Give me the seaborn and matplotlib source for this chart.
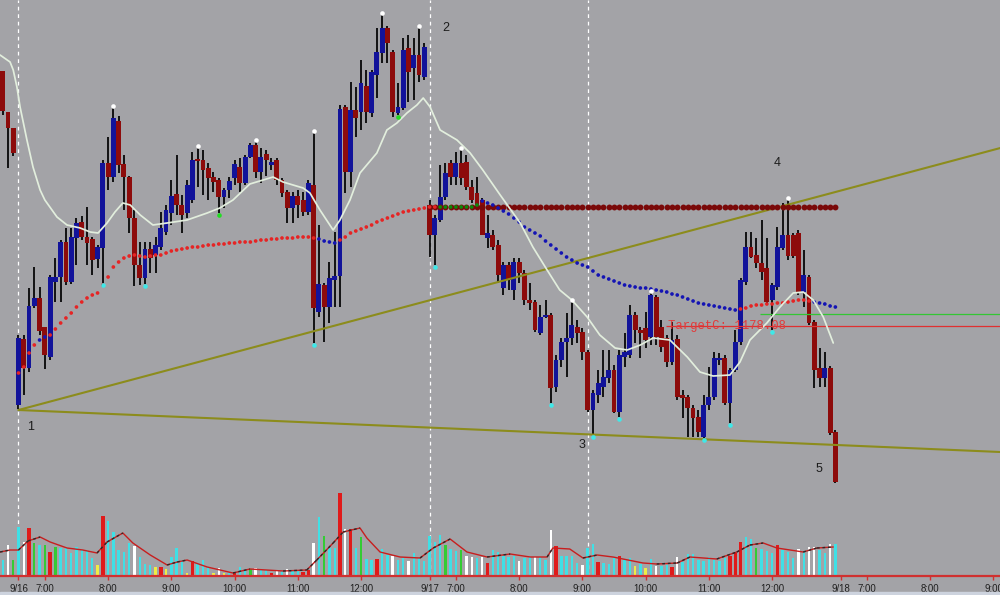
import numpy as np
import pandas as pd
import matplotlib
matplotlib.use("Agg")
import matplotlib.pyplot as plt
import seaborn as sns

# ---------------- data (5 minute bars) ----------------
# bar 0 = first bar of 9/16, bar 78 = first bar of 9/17, bar 156 = 9/18
first_bar = -3

opens = [1203.6, 1199.5, 1197.9,
         1170.2, 1176.8, 1173.9, 1180.1, 1180.9, 1178.0, 1175.0, 1182.5, 1183.0, 1186.5,
         1182.5, 1186.9, 1188.5, 1187.0, 1186.8, 1184.8, 1185.9, 1194.4, 1193.0, 1198.6,
         1194.3, 1193.0, 1188.9, 1184.2, 1182.9, 1185.8, 1185.2, 1186.0, 1187.5, 1189.4,
         1191.3, 1190.2, 1189.4, 1190.7, 1194.7, 1194.7, 1193.9, 1193.0, 1192.7, 1191.0,
         1191.7, 1192.9, 1194.0, 1192.4, 1195.0, 1196.2, 1193.5, 1195.3, 1194.2, 1194.7,
         1192.7, 1191.5, 1189.9, 1191.1, 1190.7, 1189.5, 1192.2, 1179.5, 1182.2, 1180.0,
         1182.7, 1183.1, 1200.0, 1193.5, 1199.7, 1199.5, 1202.1, 1199.4, 1203.2, 1205.4,
         1207.9, 1205.5, 1199.4, 1199.9, 1205.9, 1203.9, 1205.2, 1203.0,
         1190.2, 1187.2, 1188.7, 1191.0, 1194.4, 1193.0, 1194.4, 1194.5, 1192.0, 1191.4, 1190.7, 1186.9,
         1187.2, 1186.2, 1181.9, 1184.2, 1181.7, 1184.5, 1183.4, 1180.7, 1180.5, 1177.4,
         1179.0, 1179.2, 1172.0, 1174.7, 1176.5, 1176.9, 1178.0, 1177.5, 1175.5, 1169.7,
         1171.2, 1172.0, 1172.9, 1173.7, 1169.5, 1175.0, 1175.2, 1179.2, 1177.7, 1177.9,
         1177.0, 1181.0, 1178.0, 1176.9, 1174.5, 1176.8, 1171.2, 1171.0, 1169.9, 1169.0,
         1167.0, 1170.2, 1171.0, 1174.7, 1174.9, 1170.4, 1173.7, 1176.5, 1182.5, 1186.0,
         1185.2, 1184.4, 1183.9, 1180.7, 1182.0, 1185.9, 1187.2, 1187.2, 1187.4, 1181.5,
         1183.0, 1178.5, 1173.9, 1172.9, 1173.9, 1167.5]

highs = [1203.6, 1199.5, 1197.9,
         1177.2, 1177.2, 1181.9, 1184.0, 1182.0, 1178.0, 1183.2, 1184.9, 1186.7, 1187.9,
         1187.9, 1188.9, 1189.1, 1190.0, 1187.0, 1186.2, 1194.7, 1197.0, 1200.0, 1199.1,
         1195.2, 1193.1, 1189.7, 1186.5, 1186.5, 1186.5, 1187.0, 1189.5, 1190.2, 1192.7,
         1195.2, 1191.2, 1192.7, 1195.5, 1196.0, 1195.7, 1194.4, 1193.5, 1192.9, 1191.9,
         1193.0, 1194.7, 1194.9, 1195.2, 1196.4, 1196.6, 1195.9, 1195.7, 1194.9, 1194.9,
         1192.9, 1191.7, 1191.5, 1191.7, 1191.5, 1192.7, 1197.5, 1188.2, 1182.4, 1184.5,
         1187.5, 1200.2, 1200.2, 1202.5, 1202.0, 1204.7, 1203.7, 1203.7, 1207.9, 1209.2,
         1208.1, 1205.7, 1202.4, 1206.9, 1207.2, 1206.9, 1208.0, 1206.4,
         1190.7, 1189.2, 1194.2, 1194.4, 1194.7, 1195.5, 1195.8, 1195.2, 1192.7, 1193.0, 1190.9, 1189.2,
         1187.7, 1186.7, 1184.5, 1184.5, 1184.9, 1184.9, 1183.7, 1182.4, 1180.7, 1180.2,
         1180.7, 1179.4, 1175.2, 1176.9, 1179.4, 1180.6, 1178.7, 1177.9, 1175.7, 1171.7,
         1173.7, 1175.7, 1175.7, 1174.2, 1175.7, 1177.4, 1180.2, 1179.5, 1178.0, 1179.5,
         1181.4, 1181.2, 1178.7, 1177.2, 1178.5, 1177.2, 1171.7, 1171.2, 1170.2, 1169.7,
         1171.2, 1174.0, 1175.5, 1175.4, 1175.2, 1173.9, 1177.7, 1182.9, 1187.5, 1187.5,
         1186.9, 1188.7, 1186.9, 1182.4, 1188.0, 1190.4, 1190.7, 1187.4, 1187.7, 1185.7,
         1183.2, 1178.7, 1175.9, 1175.5, 1174.1, 1167.7]

lows = [1199.2, 1193.9, 1195.1,
        1169.8, 1171.2, 1173.5, 1179.9, 1177.2, 1173.8, 1174.7, 1180.5, 1180.5, 1182.2,
        1182.3, 1184.2, 1186.7, 1184.2, 1183.2, 1183.9, 1182.4, 1191.7, 1192.5, 1193.4,
        1189.7, 1187.4, 1182.1, 1182.2, 1182.3, 1183.4, 1183.4, 1185.7, 1187.2, 1188.2,
        1189.2, 1187.4, 1188.9, 1190.4, 1192.0, 1191.2, 1190.7, 1191.5, 1189.4, 1189.9,
        1190.9, 1192.2, 1191.5, 1192.2, 1194.9, 1192.9, 1192.4, 1193.1, 1193.7, 1192.2,
        1191.0, 1188.4, 1188.4, 1188.9, 1189.1, 1189.2, 1176.4, 1179.0, 1176.5, 1178.4,
        1180.0, 1180.0, 1191.4, 1192.0, 1197.0, 1197.7, 1198.4, 1199.0, 1200.9, 1204.4,
        1204.4, 1199.0, 1199.2, 1199.7, 1200.5, 1200.7, 1202.5, 1202.7,
        1185.0, 1184.2, 1188.5, 1190.7, 1192.2, 1192.2, 1192.2, 1191.7, 1190.4, 1189.7, 1187.2, 1185.9,
        1185.7, 1182.4, 1181.2, 1181.7, 1180.7, 1182.4, 1180.2, 1179.7, 1177.5, 1177.2,
        1178.9, 1170.4, 1171.5, 1174.0, 1173.0, 1176.2, 1176.4, 1174.7, 1169.5, 1167.2,
        1170.4, 1171.0, 1172.4, 1169.4, 1169.0, 1174.0, 1174.9, 1176.4, 1174.9, 1175.9,
        1176.2, 1176.2, 1175.5, 1174.0, 1174.2, 1170.7, 1168.9, 1167.0, 1167.0, 1167.0,
        1166.9, 1169.7, 1170.7, 1174.2, 1170.2, 1168.4, 1173.5, 1176.2, 1182.2, 1184.9,
        1183.9, 1182.7, 1180.2, 1177.7, 1181.7, 1185.7, 1184.7, 1184.9, 1181.2, 1180.0,
        1178.2, 1171.9, 1172.0, 1172.0, 1167.2, 1162.4]

closes = [1199.6, 1197.9, 1195.4,
          1176.9, 1173.9, 1180.1, 1180.9, 1177.6, 1175.2, 1183.0, 1183.0, 1186.5, 1182.5,
          1187.0, 1188.4, 1187.0, 1186.4, 1184.7, 1186.0, 1194.4, 1193.0, 1198.9, 1194.2,
          1193.0, 1188.9, 1184.2, 1182.9, 1185.8, 1184.9, 1186.2, 1187.9, 1189.7, 1191.1,
          1190.2, 1189.2, 1192.2, 1194.7, 1194.6, 1193.7, 1192.9, 1192.5, 1191.0, 1191.7,
          1192.6, 1194.3, 1192.4, 1195.0, 1196.2, 1193.5, 1195.0, 1194.7, 1194.5, 1192.7,
          1191.4, 1189.9, 1191.1, 1190.2, 1189.5, 1192.4, 1179.9, 1182.3, 1180.0, 1182.9,
          1183.1, 1199.8, 1193.5, 1199.7, 1198.9, 1202.4, 1199.5, 1203.5, 1205.5, 1207.9,
          1206.4, 1199.5, 1200.0, 1205.7, 1203.5, 1205.2, 1203.2, 1206.0,
          1187.2, 1188.9, 1191.0, 1193.4, 1193.0, 1194.4, 1192.9, 1192.0, 1190.7, 1190.2, 1187.2, 1187.4,
          1186.0, 1183.2, 1184.2, 1182.7, 1184.5, 1183.4, 1180.7, 1180.4, 1177.7, 1179.0,
          1179.2, 1171.9, 1174.7, 1176.5, 1176.9, 1178.2, 1177.4, 1175.5, 1169.7, 1171.4,
          1172.4, 1173.0, 1173.7, 1169.5, 1175.2, 1175.5, 1179.2, 1177.7, 1177.4, 1176.7,
          1181.2, 1177.0, 1176.0, 1174.5, 1176.7, 1171.0, 1170.9, 1169.9, 1168.9, 1167.5,
          1170.2, 1171.0, 1174.9, 1174.9, 1170.4, 1173.7, 1176.5, 1182.7, 1186.0, 1185.0,
          1184.4, 1183.5, 1180.5, 1182.2, 1186.0, 1187.2, 1185.1, 1185.1, 1181.5, 1183.2,
          1178.4, 1173.7, 1172.9, 1173.9, 1167.4, 1162.5]

# volume in thousands, with the colour code of each bar (c cyan, w white, g green, y yellow, r red)
volume = [16, 31, 16,
          49, 34, 48, 33, 31, 31, 24, 29, 28, 28,
          23, 29, 26, 26, 18, 11, 60, 55, 44, 26,
          24, 33, 30, 19, 12, 11, 9, 9, 7, 19,
          28, 16, 3, 15, 13, 16, 9, 3, 8, 3,
          3, 3, 9, 7, 7, 8, 6, 6, 3, 6,
          5, 7, 5, 5, 4, 6, 33, 59, 40, 28,
          28, 83, 47, 47, 28, 39, 17, 16, 17, 27,
          21, 20, 16, 18, 15, 23, 18, 15,
          40, 34, 41, 31, 27, 25, 26, 20, 19, 18, 19, 13,
          26, 24, 20, 19, 20, 15, 18, 19, 19, 19,
          16, 46, 30, 20, 20, 20, 13, 11, 28, 32,
          14, 13, 12, 18, 20, 16, 18, 10, 12, 8,
          17, 10, 10, 11, 9, 19, 14, 22, 22, 16,
          15, 19, 16, 15, 18, 20, 23, 34, 39, 37,
          28, 27, 25, 23, 31, 26, 24, 18, 27, 25,
          29, 29, 26, 23, 32, 32]
volume_codes = ("cwg "
                "cwrgcgrgcc ccccc yrccc ccwcccyryc ccyrcccywy crccgwccrw "
                "cwccrrwcgc crwrcgccrc cwccwccc "
                "cccgccgwwcwr cccccwccwc cwrccccwcc rcccrccycy "
                "cwccrwcccc cccccrrrcc gcccrcccwc wwccwc")

# slow average (dots), one value per bar from bar 0
slow_ma = [1173.4, 1174.0, 1175.4, 1176.2, 1176.7, 1177.0, 1177.2, 1177.8, 1178.4, 1178.9,
           1179.4, 1180.0, 1180.5, 1180.9, 1181.2, 1181.4, 1182.2, 1183.0, 1184.0, 1184.5,
           1184.9, 1185.1, 1185.2, 1185.1, 1185.0, 1185.1, 1185.2, 1185.2, 1185.4, 1185.6,
           1185.7, 1185.8, 1185.9, 1186.0, 1186.0, 1186.1, 1186.2, 1186.2, 1186.3, 1186.3,
           1186.4, 1186.4, 1186.5, 1186.5, 1186.5, 1186.6, 1186.7, 1186.7, 1186.8, 1186.8,
           1186.9, 1186.9, 1186.9, 1187.0, 1187.0, 1187.0, 1186.9, 1186.8, 1186.6, 1186.5,
           1186.4, 1186.7, 1187.0, 1187.4, 1187.6, 1187.8, 1188.0, 1188.2, 1188.5, 1188.7,
           1188.9, 1189.1, 1189.3, 1189.5, 1189.6, 1189.7, 1189.8, 1189.9, 1190.0, 1190.0,
           1190.0, 1190.0, 1190.0, 1190.0, 1190.0, 1190.0, 1190.0, 1190.2, 1190.6, 1190.4,
           1190.2, 1189.9, 1189.6, 1189.3, 1188.9, 1188.5, 1188.0, 1187.7, 1187.4, 1187.1,
           1186.6, 1186.2, 1185.8, 1185.4, 1185.0, 1184.7, 1184.4, 1184.2, 1184.0, 1183.6,
           1183.2, 1183.0, 1182.8, 1182.6, 1182.4, 1182.2, 1182.1, 1182.0, 1181.9, 1181.9,
           1181.8, 1181.7, 1181.6, 1181.5, 1181.3, 1181.2, 1181.0, 1180.8, 1180.6, 1180.4,
           1180.3, 1180.2, 1180.1, 1180.0, 1179.9, 1179.8, 1179.7, 1179.8, 1179.9, 1180.1,
           1180.2, 1180.2, 1180.3, 1180.3, 1180.4, 1180.4, 1180.5, 1180.6, 1180.7, 1180.7,
           1180.6, 1180.5, 1180.4, 1180.3, 1180.1, 1180.0]
# colour of the dots: (first bar, last bar, state)
slow_ma_state = [(0, 3, 'above'), (4, 5, 'below'), (6, 56, 'above'), (57, 60, 'below'),
                 (61, 79, 'above'), (80, 87, 'flat'), (88, 136, 'below'),
                 (137, 150, 'above'), (151, 155, 'below')]

# fast average (light line), read at these bars
fast_bar = [-3.5, -1.6, -1.0, -0.3, 0.3, 1.6, 2.75, 4.1, 5.0, 7.3, 9.2, 11.7, 13.6, 15.1,
            16.8, 18.3, 19.8, 21.2, 23.1, 25.5, 28.2, 32.0, 35.8, 38.2, 40.7, 43.9, 48.3,
            50.2, 54.0, 55.3, 57.2, 59.7, 61.0, 62.9, 64.8, 68.0, 69.9, 71.8, 73.7, 75.6,
            76.8, 78.1, 80.0, 83.2, 85.7, 88.1, 91.4, 95.2, 97.6, 100.3, 102.7, 105.0,
            107.9, 110.3, 113.2, 115.5, 118.0, 120.4, 123.6, 126.9, 129.3, 131.8, 135.0,
            136.9, 138.8, 142.0, 144.5, 147.0, 148.9, 150.8, 152.7, 154.6]
fast_ma = [1205.2, 1204.5, 1203.7, 1202.0, 1200.0, 1196.7, 1194.0, 1191.7, 1190.7, 1189.0,
           1188.2, 1187.9, 1187.5, 1187.4, 1188.4, 1189.5, 1190.4, 1190.2, 1189.2, 1188.2,
           1188.4, 1188.7, 1189.4, 1189.9, 1190.7, 1192.3, 1193.0, 1192.5, 1191.9, 1191.4,
           1189.7, 1187.7, 1188.7, 1190.7, 1193.4, 1195.4, 1197.7, 1198.4, 1199.4, 1200.2,
           1200.9, 1200.0, 1197.7, 1196.7, 1195.4, 1193.7, 1191.2, 1188.4, 1186.0, 1183.7,
           1181.7, 1180.7, 1179.0, 1177.2, 1175.9, 1175.7, 1176.2, 1176.9, 1176.7, 1175.0,
           1173.5, 1173.1, 1173.2, 1174.5, 1176.7, 1178.4, 1180.0, 1181.4, 1181.5, 1180.7,
           1179.0, 1176.4]

# average volume line, read at these bars
vol_ma_bar = [-3.5, -1.6, 0.0, 1.8, 4.1, 6.0, 9.2, 12.2, 14.9, 16.8, 19.8, 21.7, 25.0, 28.2,
              30.1, 32.0, 35.8, 40.7, 43.9, 50.2, 54.7, 56.6, 59.7, 61.6, 64.8, 66.1, 68.6,
              72.4, 76.2, 78.7, 81.9, 85.1, 88.9, 93.3, 97.1, 100.3, 101.4, 104.6, 107.1,
              109.8, 112.8, 114.7, 118.5, 121.1, 125.0, 127.4, 132.5, 136.3, 138.8, 141.3,
              143.9, 146.4, 148.9, 151.5, 154.6]
vol_ma = [24, 26, 26, 35, 39, 34, 28, 26, 23, 34, 43, 33, 21, 11, 14, 16, 9, 3, 7, 5, 6, 16,
          33, 44, 48, 38, 24, 19, 18, 28, 37, 24, 19, 22, 19, 19, 28, 27, 18, 21, 19, 17, 13,
          12, 13, 19, 17, 24, 31, 33, 28, 26, 24, 28, 29]

# swing markers
swing_high_bars = [18, 34, 45, 56, 69, 76, 84, 105, 120, 146]
swing_low_bars = [16, 24, 56, 79, 101, 109, 114, 130, 135, 143]
pivot_low_bars = [38, 72]

# drawn objects
trend_up = ([0, 186.3], [1169.7, 1195.9])
trend_down = ([0, 186.3], [1169.7, 1165.5])
level_price = 1190.0
level_bars = list(range(78, 156))
target_price = 1178.08
green_price = 1179.3
day_lines = [0, 78, 108]
wave_labels = [('1', 2.2, 1168.0), ('2', 81.1, 1207.9), ('3', 106.9, 1166.2),
               ('4', 143.9, 1194.4), ('5', 151.9, 1163.8)]

tick_bars = [0, 5, 17, 29, 41, 53, 65, 78, 83, 95, 107, 119, 131, 143, 156, 161, 173, 185]
tick_labels = ['9/16', '7:00', '8:00', '9:00', '10:00', '11:00', '12:00',
               '9/17', '7:00', '8:00', '9:00', '10:00', '11:00', '12:00',
               '9/18', '7:00', '8:00', '9:00']

# ---------------- style ----------------
BG = '#a3a3a7'
sns.set_style('dark', {'axes.facecolor': BG, 'figure.facecolor': BG, 'axes.edgecolor': BG})
plt.rcParams['font.family'] = ['Liberation Sans', 'DejaVu Sans']

bars = np.arange(first_bar, first_bar + len(opens))
o = np.array(opens)
h = np.array(highs)
l = np.array(lows)
c = np.array(closes)

fig = plt.figure(figsize=(10, 5.95), dpi=100)
ax = fig.add_axes([0, 105 / 595, 1, 490 / 595])
axv = fig.add_axes([0, 19 / 595, 1, 86 / 595])
fig.patches.append(plt.Rectangle((0, 0), 1, 3.5 / 595, transform=fig.transFigure,
                                 color='#cdd3de', zorder=0))

# candles
for b in day_lines:
    ax.axvline(b, color='white', lw=0.9, ls=(0, (3, 3)), zorder=1)
    axv.axvline(b, color='white', lw=0.9, ls=(0, (3, 3)), zorder=1)
ax.vlines(bars, l, h, color='black', lw=1.25, zorder=2)
body_col = np.where(c >= o, '#12139a', '#8d0b0b')
ax.bar(bars, np.maximum(np.abs(c - o), 0.15), bottom=np.minimum(o, c), width=0.92,
       color=body_col, linewidth=0, zorder=3)

# trend lines and levels
ax.plot(*trend_up, color='#8c8c1c', lw=1.5, zorder=4)
ax.plot(*trend_down, color='#8c8c1c', lw=1.5, zorder=4)
ax.hlines(target_price, 122.8, 187, color='#e03030', lw=0.9, zorder=4)
ax.hlines(green_price, 140.7, 187, color='#33c633', lw=0.9, zorder=4)
sns.scatterplot(x=level_bars, y=[level_price] * len(level_bars), color='#7a0909', s=18,
                linewidth=0, ax=ax, zorder=5)

# averages
state = []
for a, b, s in slow_ma_state:
    state += [s] * (b - a + 1)
slow = pd.DataFrame({'bar': np.arange(len(slow_ma)), 'price': slow_ma, 'state': state})
sns.scatterplot(data=slow, x='bar', y='price', hue='state', s=7, linewidth=0,
                palette={'above': '#e62424', 'below': '#1414b4', 'flat': '#0b8a0b'},
                legend=False, ax=ax, zorder=6)
sns.lineplot(x=fast_bar, y=fast_ma, sort=False, estimator=None, color='#e2eedd', lw=1.25,
             ax=ax, zorder=6)

# swing dots
hi = np.array(swing_high_bars) - first_bar
lo = np.array(swing_low_bars) - first_bar
pl = np.array(pivot_low_bars) - first_bar
sns.scatterplot(x=bars[hi], y=h[hi] + 0.15, color='white', s=11, linewidth=0, ax=ax, zorder=7)
sns.scatterplot(x=bars[lo], y=l[lo] - 0.15, color='#3fe8e8', s=11, linewidth=0, ax=ax, zorder=7)
sns.scatterplot(x=bars[pl], y=l[pl] - 0.15, color='#22dd22', s=11, linewidth=0, ax=ax, zorder=7)

ax.text(123.3, target_price, 'TargetC: 1178.08', color='#e23a3a', family='Liberation Mono',
        fontsize=8.8, va='center', ha='left', zorder=8)
for txt, xb, yp in wave_labels:
    ax.text(xb, yp, txt, color='#1c1c1c', fontsize=9, ha='center', va='center')

ax.set_xlim(-3.51, 186.24)
ax.set_ylim(1161.7, 1210.7)
ax.set_axis_off()

# volume
codes = list(''.join(volume_codes.split()))
vcol_map = {'c': '#3fe0e6', 'w': '#ffffff', 'g': '#33cc33', 'y': '#eeee44', 'r': '#e01a1a'}
vcols = [vcol_map[k] for k in codes]
vwidth = [0.65 if k == 'r' else 0.45 for k in codes]
axv.bar(bars, volume, width=vwidth, color=vcols, linewidth=0, zorder=2)
sns.lineplot(x=vol_ma_bar, y=vol_ma, sort=False, estimator=None, color='#c81e1e', lw=1.0,
             ax=axv, zorder=3)
# rising stretches of the average are drawn with dark dashes on top
for i in range(len(vol_ma) - 1):
    if vol_ma[i + 1] > vol_ma[i]:
        axv.plot(vol_ma_bar[i:i + 2], vol_ma[i:i + 2], color='#2a2a2a', lw=1.0,
                 ls=(0, (2, 2)), zorder=4)
axv.set_xlim(-3.51, 186.24)
axv.set_ylim(0, 86)
axv.set_yticks([])
axv.set_xticks(tick_bars)
axv.set_xticklabels(tick_labels)
axv.set_xlabel('')
axv.set_ylabel('')
axv.tick_params(axis='x', colors='#d03030', length=3, width=1, pad=2.5, labelsize=6.9,
                labelcolor='#1e1e1e', direction='out', bottom=True)
for side in ['top', 'left', 'right']:
    axv.spines[side].set_visible(False)
axv.spines['bottom'].set_color('#d03030')
axv.spines['bottom'].set_linewidth(1.6)
axv.patch.set_alpha(0)

fig.savefig('out.png', dpi=100, facecolor=BG)
